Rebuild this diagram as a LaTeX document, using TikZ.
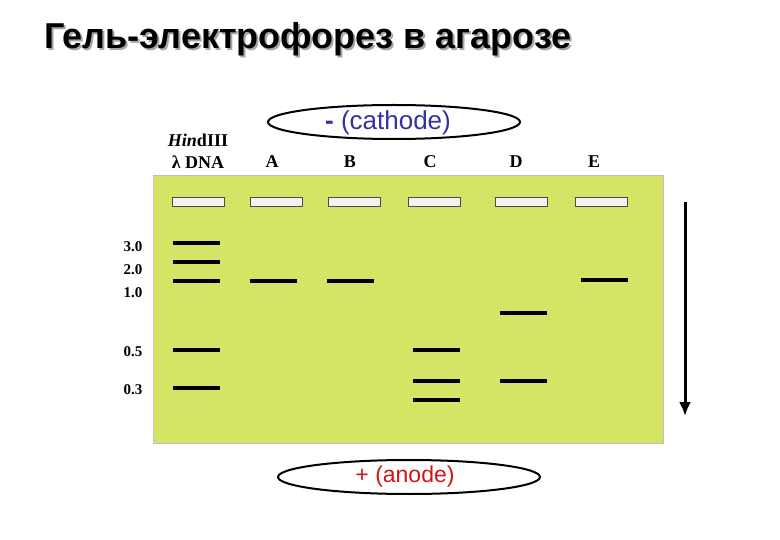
\documentclass[tikz,border=0pt]{standalone}
\usepackage{fontspec}
\usetikzlibrary{arrows.meta}
\setmainfont{Liberation Serif}
\newfontfamily\sansf{Liberation Sans}
\begin{document}
\begin{tikzpicture}[x=1pt,y=-1pt,
  band/.style={line width=3.5pt},
  well/.style={draw=black!70,fill=black!5,line width=0.6pt},
  lbl/.style={font=\bfseries\fontsize{18}{20}\selectfont},
  mw/.style={font=\bfseries\fontsize{15}{17}\selectfont,anchor=east}]
\useasboundingbox (0,0) rectangle (780,540);
\node[anchor=west,font=\sansf\bfseries\fontsize{36}{40}\selectfont,inner sep=0] (title) at (44,40) {\rlap{\raisebox{-2pt}{\hspace{2pt}\textcolor{black!35}{Гель-электрофорез в агарозе}}}Гель-электрофорез в агарозе};
\node[fill={rgb,255:red,214;green,228;blue,102},draw=black!25,line width=0.6pt,minimum width=510pt,minimum height=268pt,anchor=north west,inner sep=0] (gel) at (153,175) {};
\foreach \a in {172,250,328,408,495,575}{\node[well,anchor=north west,minimum width=52pt,minimum height=9pt,inner sep=0] at (\a,197) {};}
\foreach \y in {243,262,281,350,388}{\draw[band] (173,\y) -- (220,\y);}
\draw[band] (250,281) -- (297,281);
\draw[band] (327,281) -- (374,281);
\foreach \y in {350,381,400}{\draw[band] (413,\y) -- (460,\y);}
\foreach \y in {313,381}{\draw[band] (500,\y) -- (547,\y);}
\draw[band] (581,280) -- (628,280);
\node[mw] (m3) at (146,247) {3.0};
\node[mw] (m2) at (146,270) {2.0};
\node[mw] (m1) at (146,293) {1.0};
\node[mw] (m05) at (146,352) {0.5};
\node[mw] (m03) at (146,390) {0.3};
\node[lbl] (hind) at (198,140) {\textit{Hin}dIII};
\node[lbl] (lam) at (198,162) {λ DNA};
\node[lbl] (la) at (272,162) {A};
\node[lbl] (lb) at (350,162) {B};
\node[lbl] (lc) at (430,162) {C};
\node[lbl] (ld) at (516,162) {D};
\node[lbl] (le) at (594,162) {E};
\draw[line width=2pt] (394,122) ellipse[x radius=126, y radius=17];
\node[font=\sansf\fontsize{26}{28}\selectfont,text={rgb,255:red,50;green,50;blue,160}] (cat) at (388,123) {\textbf{-} (cathode)};
\draw[line width=2pt] (409,477) ellipse[x radius=131, y radius=17];
\node[font=\sansf\fontsize{23}{26}\selectfont,text={rgb,255:red,210;green,20;blue,20}] (an) at (405,477) {+ (anode)};
\coordinate (t) at (685,202);
\coordinate (b) at (685,416);
\draw[line width=3pt,-{Latex[length=14pt,width=12pt]}] (t) -- (b);
\end{tikzpicture}
\end{document}
